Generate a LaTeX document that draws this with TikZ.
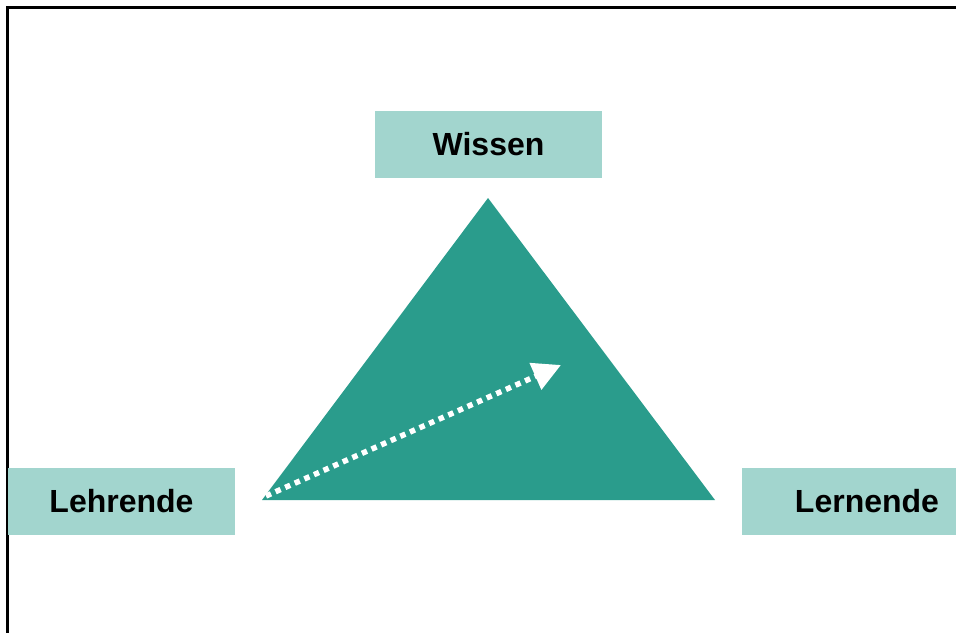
\documentclass[tikz,border=0pt]{standalone}
\usepackage{fontspec}
\setmainfont{Liberation Sans}
\usetikzlibrary{positioning, arrows.meta}
\definecolor{triteal}{rgb}{0.165, 0.612, 0.549}
\definecolor{boxmint}{rgb}{0.635, 0.835, 0.808}

\begin{document}
\begin{tikzpicture}[x=1pt, y=-1pt,
        rolebox/.style={fill=boxmint, minimum height=67pt, inner sep=0pt,
            font=\fontsize{32}{38}\selectfont\bfseries}]
        \useasboundingbox (0,0) rectangle (956,632);
        \clip (0,0) rectangle (956,632);

        \draw [line width=3pt] (7,640) -- (7,7) -- (966,7);

        \node (wissen)   [rolebox, minimum width=227pt] at (488.5,144.5) {Wissen};
        \node (lehrende) [rolebox, minimum width=227pt] at (121.5,501.5) {Lehrende};
        \node (lernende) [rolebox, minimum width=250pt] at (867,501.5) {Lernende};

        \coordinate (apex)  at (488,198);
        \coordinate (left)  at (262,500);
        \coordinate (right) at (715,500);
        \fill [triteal] (apex) -- (left) -- (right) -- cycle;

        \coordinate (start) at (266,496);
        \coordinate (tip)   at (561,365);
        \draw [white, line width=5.5pt, dash pattern=on 5.5pt off 5pt,
            -{Triangle[length=28pt, width=28pt, fill=white]}] (start) -- (tip);
    \end{tikzpicture}
\end{document}
